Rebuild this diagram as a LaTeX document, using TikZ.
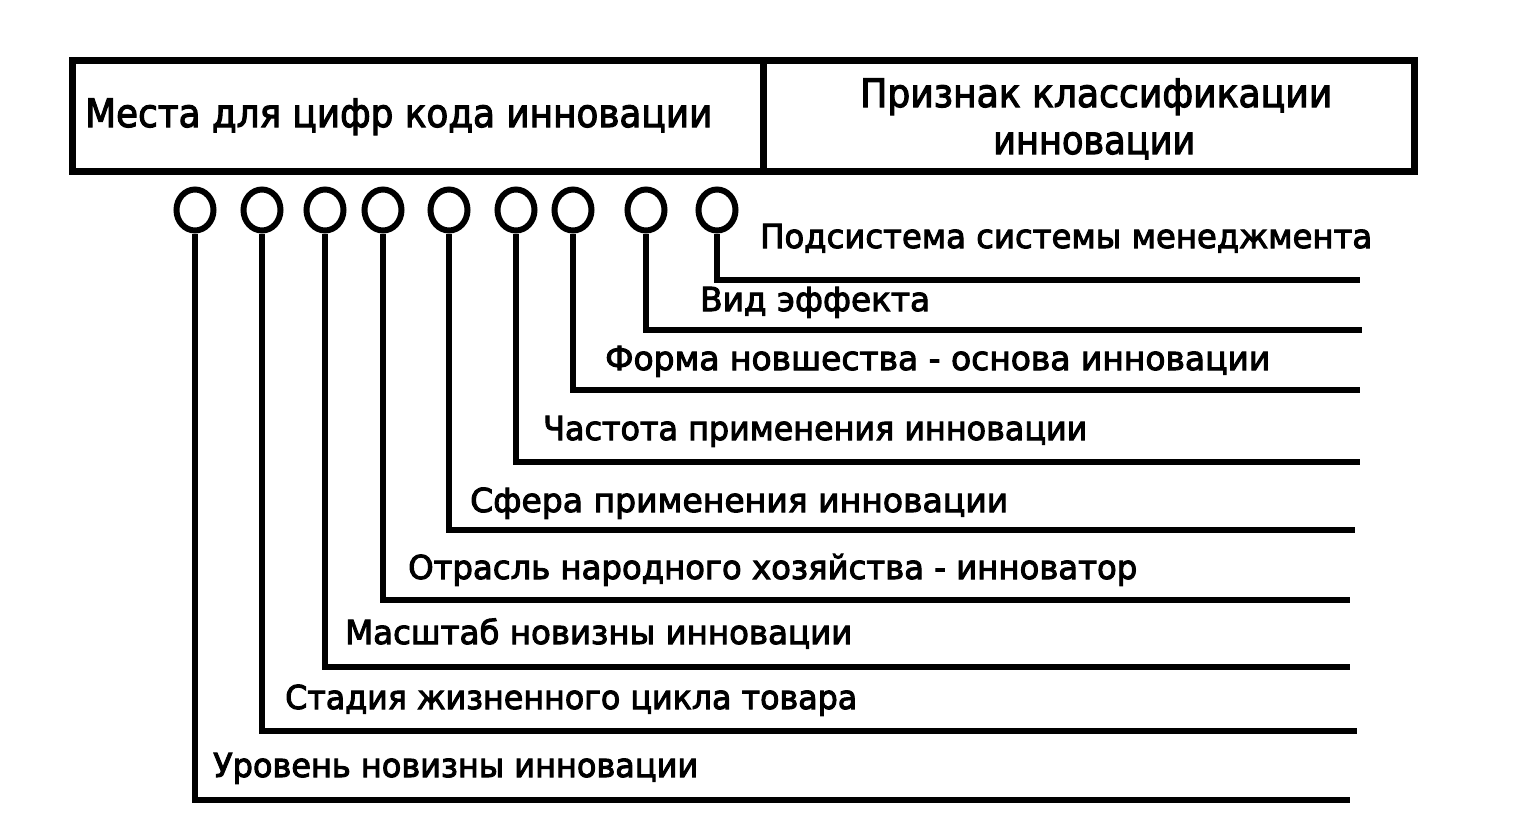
\documentclass[tikz,border=0pt]{standalone}
\usepackage{fontspec}
\setmainfont{DejaVu Sans}
\newfontfamily\lblfont{DejaVu Sans}[FakeBold=3]
\usepackage{graphicx}
\usetikzlibrary{shapes.geometric}
\newcommand{\fitw}[2]{\resizebox{#1}{\height}{#2}}
\begin{document}
\begin{tikzpicture}[x=1pt,y=-1pt,
  hdrbox/.style={draw,line width=7pt,minimum height=111pt,inner sep=0pt,anchor=north west},
  hdrtxt/.style={anchor=base west,inner sep=0pt,font=\lblfont\fontsize{39}{46}\selectfont},
  lbl/.style={anchor=base west,inner sep=0pt,font=\lblfont\fontsize{33}{40}\selectfont},
  ring/.style={draw,ellipse,line width=6pt,minimum width=37pt,minimum height=41pt,inner sep=0pt},
  conn/.style={line width=5.5pt}]
\path[fill=white,use as bounding box] (0,0) rectangle (1537,831);

% header
\node[hdrbox,minimum width=691pt] (boxL) at (69,57) {};
\node[hdrbox,minimum width=651pt] (boxR) at (760,57) {};
\node[hdrtxt] (hL) at (85,127) {\fitw{627pt}{Места для цифр кода инновации}};
\node[hdrtxt] (hR1) at (860,107) {\fitw{472pt}{Признак классификации}};
\node[hdrtxt] (hR2) at (993,154) {\fitw{202pt}{инновации}};

% rings
\foreach \i/\x in {1/195,2/262,3/325,4/383,5/449,6/516,7/573,8/646,9/717}
  \node[ring] (c\i) at (\x,210) {};

% end points
\coordinate (e9) at (1360,280);
\coordinate (e8) at (1362,330);
\coordinate (e7) at (1360,390);
\coordinate (e6) at (1360,462);
\coordinate (e5) at (1355,530);
\coordinate (e4) at (1350,600);
\coordinate (e3) at (1350,667);
\coordinate (e2) at (1357,731);
\coordinate (e1) at (1350,800);

\foreach \i in {1,...,9}
  \draw[conn] (c\i.south) |- (e\i);

% labels
\node[lbl] (l9) at (760,248) {\fitw{612pt}{Подсистема системы менеджмента}};
\node[lbl] (l8) at (700,311) {\fitw{230pt}{Вид эффекта}};
\node[lbl] (l7) at (605,370) {\fitw{665pt}{Форма новшества - основа инновации}};
\node[lbl] (l6) at (543,440) {\fitw{544pt}{Частота применения инновации}};
\node[lbl] (l5) at (470,512) {\fitw{538pt}{Сфера применения инновации}};
\node[lbl] (l4) at (408,579) {\fitw{729pt}{Отрасль народного хозяйства - инноватор}};
\node[lbl] (l3) at (345,644) {\fitw{507pt}{Масштаб новизны инновации}};
\node[lbl] (l2) at (285,709) {\fitw{572pt}{Стадия жизненного цикла товара}};
\node[lbl] (l1) at (213,777) {\fitw{485pt}{Уровень новизны инновации}};
\end{tikzpicture}
\end{document}
